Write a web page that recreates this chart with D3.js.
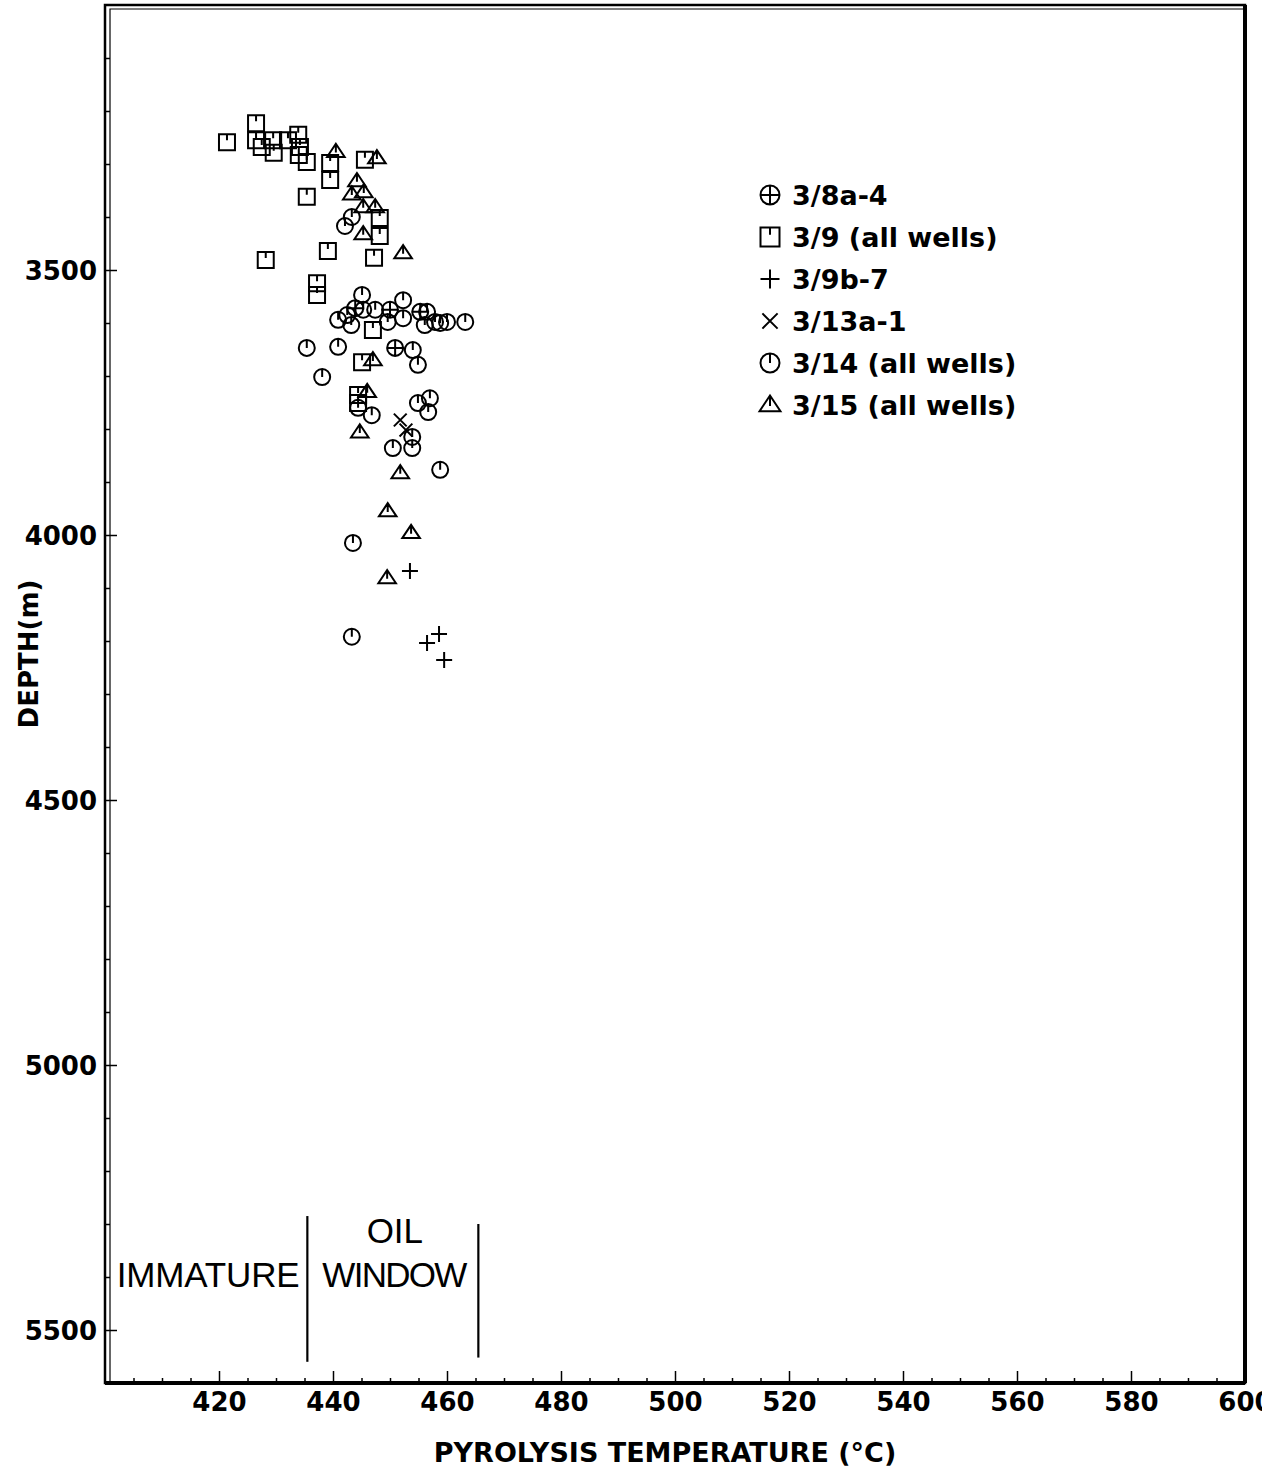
<!DOCTYPE html>
<html>
<head>
<meta charset="utf-8">
<script src="https://cdn.jsdelivr.net/npm/d3@7"></script>
<style>
    body { margin: 0; background: #fff; }
    text { font-family: "DejaVu Sans", sans-serif; font-weight: bold; fill: #000; }
    .zone-label { font-family: "Liberation Sans", sans-serif; font-weight: normal; }
    .marker { fill: none; stroke: #000; stroke-width: 2; }
</style>
</head>
<body>
<div id="chart"></div>
<script>

// [temperature (C), depth (m)] per well group
const well38a4 = [[443.9, 3572], [450.0, 3575], [455.3, 3579], [450.9, 3647]];

const well39 = [
    [421.4, 3259], [426.5, 3223], [426.5, 3255], [427.5, 3268], [429.5, 3255], [429.6, 3279],
    [432.1, 3255], [433.9, 3245], [434.2, 3268], [434.0, 3283], [435.4, 3296], [439.5, 3298],
    [439.5, 3330], [445.6, 3292], [435.4, 3362], [448.2, 3402], [448.2, 3436], [439.1, 3464],
    [428.2, 3481], [447.2, 3477], [437.2, 3525], [437.2, 3547], [447.0, 3613], [445.1, 3674],
    [444.4, 3736], [444.4, 3751]
];

const well39b7 = [[453.5, 4068], [458.6, 4187], [456.5, 4204], [459.5, 4236]];

const well313a1 = [[451.8, 3783], [452.8, 3802]];

const well314 = [
    [443.3, 3400], [442.1, 3417], [445.1, 3547], [452.3, 3557], [440.9, 3594], [442.5, 3585],
    [443.2, 3604], [445.3, 3575], [447.4, 3575], [449.6, 3598], [452.3, 3591], [456.5, 3579],
    [456.1, 3604], [457.9, 3598], [460.0, 3598], [458.8, 3600], [463.2, 3598], [435.4, 3647],
    [440.9, 3645], [438.1, 3702], [454.0, 3651], [454.9, 3679], [457.0, 3742], [454.9, 3751],
    [456.7, 3768], [444.4, 3760], [446.8, 3774], [450.5, 3836], [453.9, 3836], [453.9, 3815],
    [458.8, 3877], [443.5, 4015], [443.3, 4192]
];

const well315 = [
    [440.5, 3277], [447.7, 3289], [444.2, 3332], [443.3, 3357], [445.4, 3353], [445.3, 3381],
    [447.4, 3381], [445.3, 3432], [452.3, 3468], [447.0, 3670], [446.0, 3730], [444.7, 3806],
    [451.8, 3883], [449.6, 3955], [453.7, 3996], [449.5, 4081]
];

const seriesNames = ['3/8a-4', '3/9 (all wells)', '3/9b-7', '3/13a-1', '3/14 (all wells)', '3/15 (all wells)'];
const seriesShapes = ['circlePlus', 'square', 'plus', 'cross', 'circle', 'triangle'];

const xTicks = [420, 440, 460, 480, 500, 520, 540, 560, 580, 600];
const yTicks = [3500, 4000, 4500, 5000, 5500];

// maturity zones: boundaries (C) and labels
const zoneBounds = [435.5, 465.5];
const zoneLabels = [['IMMATURE'], ['OIL', 'WINDOW']];


class DepthVis {
    constructor(parentElement, series) {
        this.parentElement = parentElement
        this.series = series

        this.initVis()
    }

    initVis() {
        let vis = this

        const width = 1262;
        const height = 1469;

        vis.plot = { left: 105, top: 5, right: 1245, bottom: 1383 };

        vis.svg = d3.select('#' + vis.parentElement)
            .append('svg')
            .attr('width', width)
            .attr('height', height);

        // Scales
        vis.x = d3.scaleLinear()
            .domain([400, 600])
            .range([vis.plot.left, vis.plot.right]);

        vis.y = d3.scaleLinear()
            .domain([3000, 5600])
            .range([vis.plot.top, vis.plot.bottom]);

        // frame (double line on left/top like the original plot)
        vis.svg.append('rect')
            .attr('x', vis.plot.left)
            .attr('y', vis.plot.top)
            .attr('width', vis.plot.right - vis.plot.left)
            .attr('height', vis.plot.bottom - vis.plot.top)
            .attr('fill', 'none')
            .attr('stroke', '#000')
            .attr('stroke-width', 2.5);

        vis.svg.append('path')
            .attr('d', `M${vis.plot.left + 5},${vis.plot.bottom}V${vis.plot.top + 4}H${vis.plot.right}`)
            .attr('fill', 'none')
            .attr('stroke', '#000')
            .attr('stroke-width', 1.2);

        vis.svg.append('line')
            .attr('x1', vis.plot.right).attr('x2', vis.plot.right)
            .attr('y1', vis.plot.top).attr('y2', vis.plot.bottom)
            .attr('stroke', '#000').attr('stroke-width', 4);

        vis.svg.append('line')
            .attr('x1', vis.plot.left).attr('x2', vis.plot.right)
            .attr('y1', vis.plot.bottom).attr('y2', vis.plot.bottom)
            .attr('stroke', '#000').attr('stroke-width', 4);

        // Axes
        vis.xAxis = d3.axisBottom(vis.x)
            .tickValues(xTicks)
            .tickSizeInner(-12)
            .tickSizeOuter(0)
            .tickPadding(10)
            .tickFormat(d3.format('d'));

        vis.xMinor = d3.axisBottom(vis.x)
            .tickValues(d3.range(405, 600, 5).filter(d => d % 20 != 0))
            .tickSizeInner(-5)
            .tickSizeOuter(0)
            .tickFormat('');

        vis.yAxis = d3.axisLeft(vis.y)
            .tickValues(yTicks)
            .tickSizeInner(-12)
            .tickSizeOuter(0)
            .tickPadding(8)
            .tickFormat(d3.format('d'));

        vis.yMinor = d3.axisLeft(vis.y)
            .tickValues(d3.range(3100, 5600, 100).filter(d => d % 500 != 0))
            .tickSizeInner(-5)
            .tickSizeOuter(0)
            .tickFormat('');

        vis.gx = vis.svg.append('g')
            .attr('transform', `translate(0, ${vis.plot.bottom})`)
            .call(vis.xAxis);
        vis.svg.append('g')
            .attr('transform', `translate(0, ${vis.plot.bottom})`)
            .call(vis.xMinor);

        vis.gy = vis.svg.append('g')
            .attr('transform', `translate(${vis.plot.left}, 0)`)
            .call(vis.yAxis);
        vis.svg.append('g')
            .attr('transform', `translate(${vis.plot.left}, 0)`)
            .call(vis.yMinor);

        vis.svg.selectAll('.domain').remove();
        vis.svg.selectAll('.tick line').attr('stroke', '#000').attr('stroke-width', 1.5);

        vis.gx.selectAll('text')
            .style('font-size', '26px');
        vis.gy.selectAll('text')
            .style('font-size', '26px')
            .attr('dy', '0.36em');

        // axis titles
        vis.svg.append('text')
            .attr('x', 665)
            .attr('y', 1462)
            .attr('text-anchor', 'middle')
            .style('font-size', '27px')
            .text('PYROLYSIS TEMPERATURE (°C)');

        vis.svg.append('text')
            .attr('transform', 'translate(38, 654) rotate(-90)')
            .attr('text-anchor', 'middle')
            .style('font-size', '26px')
            .text('DEPTH(m)');

        vis.drawZones();
        vis.updateVis();
        vis.drawLegend();
    }

    // builds a marker outline with d3.path, r = half size
    markerPath(shape, r) {
        let p = d3.path();
        if (shape == 'circle' || shape == 'circlePlus') {
            p.moveTo(r, 0);
            p.arc(0, 0, r, 0, 2 * Math.PI);
            p.moveTo(0, -r);
            p.lineTo(0, shape == 'circle' ? 0 : r);
            if (shape == 'circlePlus') {
                p.moveTo(-r, 0);
                p.lineTo(r, 0);
            }
        } else if (shape == 'square') {
            p.rect(-r, -r, 2 * r, 2 * r);
            p.moveTo(0, -r);
            p.lineTo(0, -r * 0.25);
        } else if (shape == 'triangle') {
            p.moveTo(0, -r);
            p.lineTo(r * 1.1, r * 0.65);
            p.lineTo(-r * 1.1, r * 0.65);
            p.closePath();
            p.moveTo(0, -r);
            p.lineTo(0, r * 0.1);
        } else if (shape == 'plus') {
            p.moveTo(-r, 0);
            p.lineTo(r, 0);
            p.moveTo(0, -r);
            p.lineTo(0, r);
        } else if (shape == 'cross') {
            let k = r * 0.8;
            p.moveTo(-k, -k);
            p.lineTo(k, k);
            p.moveTo(k, -k);
            p.lineTo(-k, k);
        }
        return p.toString();
    }

    drawZones() {
        let vis = this

        vis.svg.selectAll('.zone-line')
            .data(zoneBounds)
            .enter()
            .append('line')
            .attr('class', 'zone-line')
            .attr('x1', d => vis.x(d)).attr('x2', d => vis.x(d))
            .attr('y1', (d, i) => vis.y(i == 0 ? 5285 : 5300))
            .attr('y2', (d, i) => vis.y(i == 0 ? 5560 : 5552))
            .attr('stroke', '#000')
            .attr('stroke-width', 2.2);

        // label centred between left edge / boundaries
        let centres = [(vis.plot.left + vis.x(zoneBounds[0])) / 2 + 2, (vis.x(zoneBounds[0]) + vis.x(zoneBounds[1])) / 2 + 2];

        zoneLabels.forEach((lines, i) => {
            lines.forEach((txt, j) => {
                vis.svg.append('text')
                    .attr('class', 'zone-label')
                    .attr('x', centres[i])
                    .attr('y', 1287 - (lines.length - 1 - j) * 44)
                    .attr('text-anchor', 'middle')
                    .attr('textLength', txt.length > 3 ? (i == 0 ? 183 : 145) : null)
                    .style('font-size', '35px')
                    .text(txt);
            });
        });
    }

    updateVis() {
        let vis = this;

        vis.series.forEach((s, si) => {
            vis.svg.append('g')
                .selectAll('path')
                .data(s)
                .enter()
                .append('path')
                .attr('class', 'marker')
                .attr('transform', d => `translate(${vis.x(d[0])}, ${vis.y(d[1])})`)
                .attr('d', vis.markerPath(seriesShapes[si], 8));
        });
    }

    drawLegend() {
        let vis = this;

        let leg = vis.svg.append('g')
            .attr('transform', 'translate(770, 195)');

        let rows = leg.selectAll('g')
            .data(seriesNames)
            .enter()
            .append('g')
            .attr('transform', (d, i) => `translate(0, ${i * 42})`);

        rows.append('path')
            .attr('class', 'marker')
            .attr('d', (d, i) => vis.markerPath(seriesShapes[i], 9.5));

        rows.append('text')
            .attr('x', 22)
            .attr('dy', '0.36em')
            .style('font-size', '27px')
            .text(d => d);
    }
}

new DepthVis('chart', [well38a4, well39, well39b7, well313a1, well314, well315]);

</script>
</body>
</html>
